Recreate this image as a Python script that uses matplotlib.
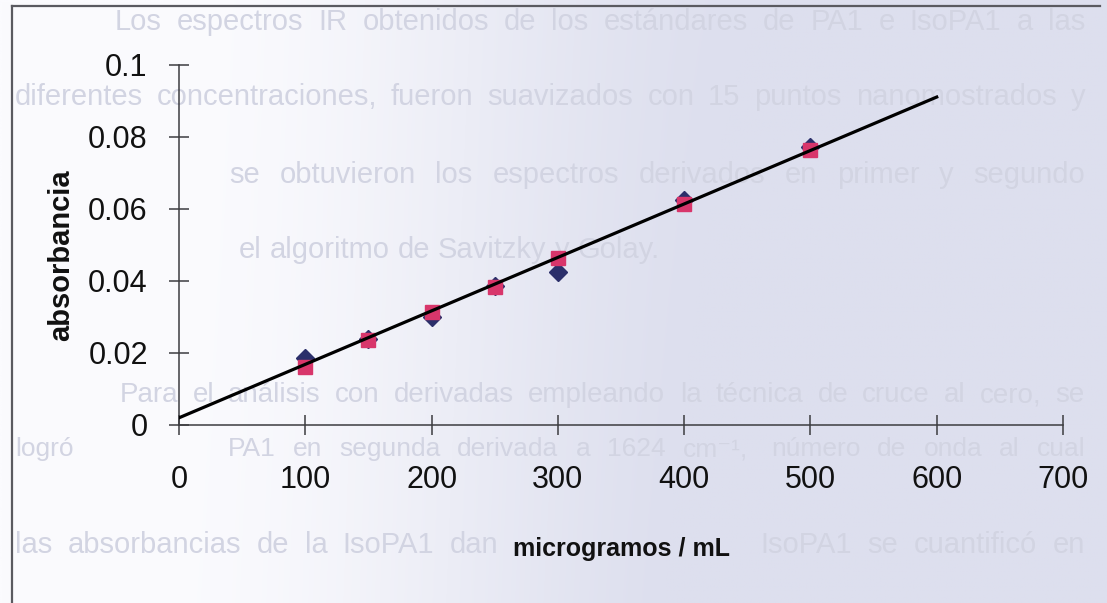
import numpy as np
import matplotlib
matplotlib.use('Agg')
import matplotlib.pyplot as plt
from matplotlib.font_manager import FontProperties
from matplotlib.textpath import TextToPath

plt.rcParams['font.family'] = ['Liberation Sans', 'DejaVu Sans']

# datos
conc = [100, 150, 200, 250, 300, 400, 500]            # microgramos / mL
abs_azul = [0.0186, 0.0240, 0.0300, 0.0385, 0.0425, 0.0625, 0.0772]
abs_rojo = [0.0161, 0.0236, 0.0314, 0.0383, 0.0464, 0.0614, 0.0764]
tend_x = [0, 600]
tend_y = [0.0020, 0.0911]

xticks = [0, 100, 200, 300, 400, 500, 600, 700]
yticks = [0, 0.02, 0.04, 0.06, 0.08, 0.1]
yticklabels = ['0', '0.02', '0.04', '0.06', '0.08', '0.1']

# texto de la pagina escaneada que se transparenta
# (x inicio, x fin o None si no va justificada, y, tamano, texto, tramos ocultos)
fondo_texto = [
    (115, 1085, 22, 21, 'Los espectros IR obtenidos de los estándares de PA1 e IsoPA1 a las', []),
    (15, 1085, 97, 21, 'diferentes concentraciones, fueron suavizados con 15 puntos nanomostrados y', []),
    (15, 1085, 175, 21, 'posteriormente se obtuvieron los espectros derivados en primer y segundo', [(0, 180)]),
    (15, None, 250, 21, 'orden, aplicando el algoritmo de Savitzky y Golay.', [(0, 180)]),
    (120, 1085, 395, 20, 'Para el análisis con derivadas empleando la técnica de cruce al cero, se', []),
    (15, 1085, 449, 19, 'logró cuantificar PA1 en segunda derivada a 1624 cm⁻¹, número de onda al cual', [(122, 158)]),
    (15, 1085, 545, 21, 'las absorbancias de la IsoPA1 dan lecturas de cero. IsoPA1 se cuantificó en', [(505, 740)]),
]

W, H = 1107, 603
fig = plt.figure(figsize=(W / 100, H / 100), dpi=100)

# fondo: papel escaneado (blanco a la izquierda, lavanda a la derecha)
bg = fig.add_axes([0, 0, 1, 1])
bg.set_axis_off()
xx = np.linspace(0, 1, 300)
yy = np.linspace(0, 1, 160)
X, Y = np.meshgrid(xx, yy)
t = np.clip((X - 0.15) / 0.55, 0, 1)
t = t * t * (3 - 2 * t)
t = np.clip(t + 0.15 * Y * X, 0, 1)
c0 = np.array([251, 251, 254]) / 255
c1 = np.array([221, 223, 238]) / 255
img = c0 + (c1 - c0) * t[..., None]
bg.imshow(img, extent=[0, W, H, 0], aspect='auto', interpolation='bilinear')

ttp = TextToPath()
for x0, x1, y0, fsize, s, ocultos in fondo_texto:
    fp = FontProperties(family=['Liberation Sans', 'DejaVu Sans'], size=fsize)
    fp1 = FontProperties(family='Liberation Sans', size=fsize)
    words = s.split(' ')
    widths = [ttp.get_text_width_height_descent(w, fp1, ismath=False)[0] * 100 / 72 for w in words]
    if x1 is None:
        gap = 0.278 * fsize * 100 / 72
    else:
        gap = (x1 - x0 - sum(widths)) / max(len(words) - 1, 1)
    x = x0
    for w, wd in zip(words, widths):
        tapado = any(x < b and x + wd > a for a, b in ocultos)
        if not tapado:
            bg.text(x, y0, w, fontproperties=fp, color='#d2d4e2', va='center', ha='left')
        x += wd + gap

bg.plot([12, 12], [H, 6], color='#5a5a60', lw=1.6)
bg.plot([12, 1100], [6, 6], color='#5a5a60', lw=1.6)
bg.set_xlim(0, W)
bg.set_ylim(H, 0)

ax = fig.add_axes([179 / W, 1 - 425 / H, 884 / W, 360 / H])
ax.patch.set_alpha(0)

ax.plot(conc, abs_azul, linestyle='none', marker='D', ms=9, color='#2b2f6a', zorder=3)
ax.plot(conc, abs_rojo, linestyle='none', marker='s', ms=10.5, color='#d8366b', zorder=4)
ax.plot(tend_x, tend_y, color='black', lw=2.3, zorder=5)

ax.set_xlim(0, 700)
ax.set_ylim(0, 0.1)
ax.set_xticks(xticks)
ax.set_yticks(yticks)
ax.set_yticklabels(yticklabels)
for s in ['top', 'right']:
    ax.spines[s].set_visible(False)
for s in ['left', 'bottom']:
    ax.spines[s].set_color('#3c3c40')
    ax.spines[s].set_linewidth(1.1)
ax.tick_params(axis='both', direction='inout', length=15, width=1.1, color='#3c3c40',
               labelsize=22, labelcolor='#111111')
ax.tick_params(axis='x', pad=21)
ax.tick_params(axis='y', pad=15)

ax.set_xlabel('microgramos / mL', fontsize=18, fontweight='bold', color='#111111')
ax.set_ylabel('absorbancia', fontsize=21, fontweight='bold', color='#111111')
ax.xaxis.set_label_coords(0.501, -0.31)
ax.yaxis.set_label_coords(-0.118, 0.472)

fig.savefig('out.png', dpi=100)
